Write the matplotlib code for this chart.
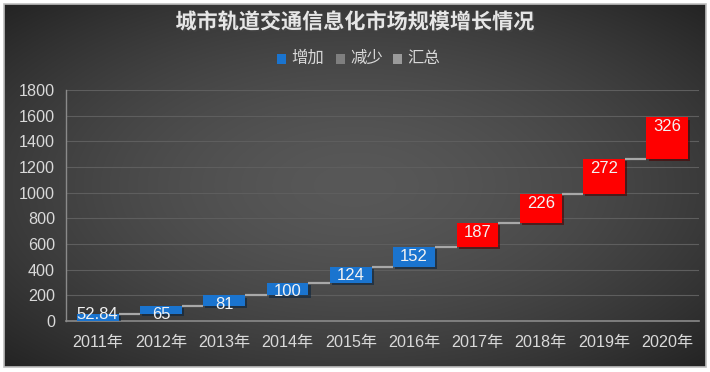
import numpy as np
import matplotlib
matplotlib.use("Agg")
import matplotlib.pyplot as plt
import matplotlib.patheffects as pe
from matplotlib.patches import Rectangle

years = ["2011年", "2012年", "2013年", "2014年", "2015年", "2016年", "2017年", "2018年", "2019年", "2020年"]
increase = [52.84, 65, 81, 100, 124, 152, 187, 226, 272, 326]
bar_colors = ["#1a74cf"] * 6 + ["#ff0000"] * 4
yticks = [0, 200, 400, 600, 800, 1000, 1200, 1400, 1600, 1800]
title = "城市轨道交通信息化市场规模增长情况"
legend_labels = ["增加", "减少", "汇总"]
legend_colors = ["#1a74cf", "#7f7f7f", "#9a9a9a"]

FONT = ["Liberation Sans", "Noto Sans CJK SC"]
CJK = ["Noto Sans CJK SC", "DejaVu Sans"]
plt.rcParams["font.family"] = FONT

W, H = 710, 372
fig = plt.figure(figsize=(W / 100, H / 100), dpi=100)
fig.patch.set_facecolor("white")

# background with radial gradient
x0, y0, x1, y1 = 4, 4, 706, 367
bg = fig.add_axes([x0 / W, 1 - y1 / H, (x1 - x0) / W, (y1 - y0) / H])
gx, gy = np.meshgrid(np.linspace(-1, 1, 400), np.linspace(-1, 1, 220))
r = np.sqrt(gx ** 2 + gy ** 2) / np.sqrt(2)
c_center, c_edge = 0.345, 0.14
val = c_center - (c_center - c_edge) * np.clip(r, 0, 1) ** 1.6
img = np.dstack([val, val, val])
bg.imshow(img, aspect="auto", extent=[0, 1, 0, 1], interpolation="bilinear")
bg.set_xlim(0, 1)
bg.set_ylim(0, 1)
bg.axis("off")
fig.patches.append(Rectangle((x0 / W, 1 - y1 / H), (x1 - x0) / W, (y1 - y0) / H,
                             transform=fig.transFigure, fill=False,
                             edgecolor="#bfbfbf", lw=1.2, zorder=0.5))

# main axes
left, right, top, bottom = 66, 699, 90, 321
ax = fig.add_axes([left / W, 1 - bottom / H, (right - left) / W, (bottom - top) / H])
ax.set_facecolor("none")
ax.set_xlim(-0.5, len(years) - 0.5)
ax.set_ylim(0, 1800)
ax.set_yticks(yticks)
ax.set_yticklabels([str(t) for t in yticks])
ax.set_xticks(range(len(years)))
ax.set_xticklabels(years)
ax.tick_params(axis="both", length=0, colors="#d9d9d9", labelsize=11.6)
ax.tick_params(axis="y", pad=8)
ax.tick_params(axis="x", pad=10)
for lab in ax.get_xticklabels():
    lab.set_family(FONT)
ax.grid(axis="y", color="#5e5e5e", lw=0.8)
ax.set_axisbelow(True)
for s in ["top", "right"]:
    ax.spines[s].set_visible(False)
ax.spines["left"].set_color("#8a8a8a")
ax.spines["bottom"].set_color("#8a8a8a")
ax.spines["left"].set_linewidth(1.0)
ax.spines["bottom"].set_linewidth(1.2)

cum = np.cumsum(increase)
base = cum - np.array(increase)
bw = 0.66
bars = ax.bar(range(len(years)), increase, bottom=base, width=bw, color=bar_colors,
              zorder=3)
for b in bars:
    b.set_path_effects([pe.SimplePatchShadow(offset=(1.5, -1.5), alpha=0.6), pe.Normal()])

# connectors
for i in range(len(years) - 1):
    ax.plot([i + bw / 2, i + 1 - bw / 2], [cum[i], cum[i]], color="#a8a8a8", lw=1.6,
            zorder=2, solid_capstyle="butt")

# value labels
for i, v in enumerate(increase):
    ytop = max(cum[i] - 12, 108)
    txt = f"{v:g}" if v != int(v) else f"{int(v)}"
    ax.text(i, ytop, txt, ha="center", va="top", color="#f2f2f2", fontsize=12,
            family=FONT, zorder=4)

# title
fig.text(355 / W, 1 - 22 / H, title, ha="center", va="center", fontsize=15.2,
         fontweight="bold", color="#e6e6e6", family=CJK,
         path_effects=[pe.SimplePatchShadow(offset=(1.2, -1.2), alpha=0.7), pe.Normal()])

# legend
lx = [277, 336, 393]
for xx, lab, col in zip(lx, legend_labels, legend_colors):
    fig.patches.append(Rectangle((xx / W, 1 - 63.5 / H), 8.5 / W, 10 / H,
                                 transform=fig.transFigure, facecolor=col,
                                 edgecolor="none", zorder=3))
    fig.text((xx + 14) / W, 1 - 58 / H, lab, ha="left", va="center", fontsize=11.8,
             color="#d9d9d9", family=CJK)

fig.savefig("out.png", dpi=100, facecolor=fig.get_facecolor())
